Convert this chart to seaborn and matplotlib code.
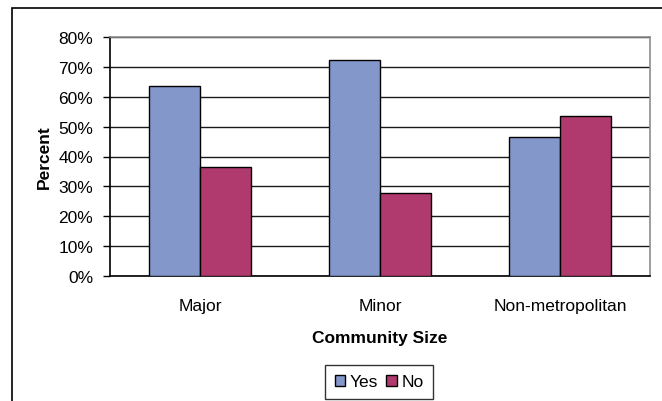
import matplotlib
matplotlib.use("Agg")
import matplotlib.pyplot as plt
from matplotlib.patches import Rectangle
import seaborn as sns
import pandas as pd

# Survey responses by community size (percent of respondents)
categories = ["Major", "Minor", "Non-metropolitan"]
yes_pct = [63.6, 72.2, 46.5]
no_pct = [36.4, 27.8, 53.5]
series_names = ["Yes", "No"]
y_ticks = [0, 10, 20, 30, 40, 50, 60, 70, 80]
y_tick_labels = [f"{v}%" for v in y_ticks]

df = pd.DataFrame({
    "Community Size": categories * 2,
    "Percent": yes_pct + no_pct,
    "Response": [series_names[0]] * len(categories) + [series_names[1]] * len(categories),
})

sns.set_style("white")
plt.rcParams["font.family"] = ["Liberation Sans", "DejaVu Sans"]
plt.rcParams["text.color"] = "black"
plt.rcParams["axes.labelcolor"] = "black"
plt.rcParams["xtick.color"] = "black"
plt.rcParams["ytick.color"] = "black"

FS = 12.5

W, H = 662, 402
fig = plt.figure(figsize=(W / 100, H / 100), dpi=100)
ax = fig.add_axes([110 / W, 1 - 277 / H, 540 / W, 239 / H])

palette = {"Yes": "#8497CB", "No": "#B03A6E"}
sns.barplot(data=df, x="Community Size", y="Percent", hue="Response",
            order=categories, hue_order=series_names, palette=palette,
            width=0.572, gap=0, saturation=1, edgecolor="black",
            linewidth=1.0, errorbar=None, ax=ax, zorder=3)

ax.set_xlim(-0.5, len(categories) - 0.5)
ax.set_ylim(0, 80)
ax.set_yticks(y_ticks)
ax.set_yticklabels(y_tick_labels, fontsize=FS)
ax.yaxis.grid(True, color="#1a1a1a", linewidth=1.0, zorder=0)
ax.set_axisbelow(True)

# Category labels at bar-group centers, ticks at group boundaries
ax.set_xticks(range(len(categories)))
ax.set_xticklabels(categories, fontsize=FS)
ax.set_xticks([i - 0.5 for i in range(len(categories) + 1)], minor=True)
ax.tick_params(axis="x", which="major", length=0, pad=16)
ax.tick_params(axis="x", which="minor", length=5, width=1, color="black", direction="out")
ax.tick_params(axis="y", length=5, width=1, color="black", direction="out", pad=7, left=True)

for side in ("left", "bottom"):
    ax.spines[side].set_color("black")
    ax.spines[side].set_linewidth(1.2)
for side in ("top", "right"):
    ax.spines[side].set_visible(True)
    ax.spines[side].set_color("#8c8c8c")
    ax.spines[side].set_linewidth(1.2)

ax.set_xlabel("Community Size", fontsize=FS, fontweight="bold", labelpad=12)
ax.set_ylabel("Percent", fontsize=FS, fontweight="bold", labelpad=4.5)

ax.legend_.remove()
handles = [Rectangle((0, 0), 1, 1, facecolor=palette[s], edgecolor="black", linewidth=1.0)
           for s in series_names]
leg = fig.legend(handles, series_names, loc="center", bbox_to_anchor=(379 / W, 1 - 383 / H),
                 ncol=2, fontsize=FS, frameon=True, fancybox=False, edgecolor="black",
                 handlelength=0.6, handleheight=0.6, handletextpad=0.25, columnspacing=0.5,
                 borderpad=0.55, borderaxespad=0)
leg.get_frame().set_linewidth(1.0)

# Chart-area border running off the right and bottom edges
fig.add_artist(Rectangle((12 / W, -0.1), 1.2, 1 - 9 / H + 0.1, transform=fig.transFigure,
                         fill=False, edgecolor="black", linewidth=1.2))

fig.savefig("out.png", dpi=100, facecolor="white")
